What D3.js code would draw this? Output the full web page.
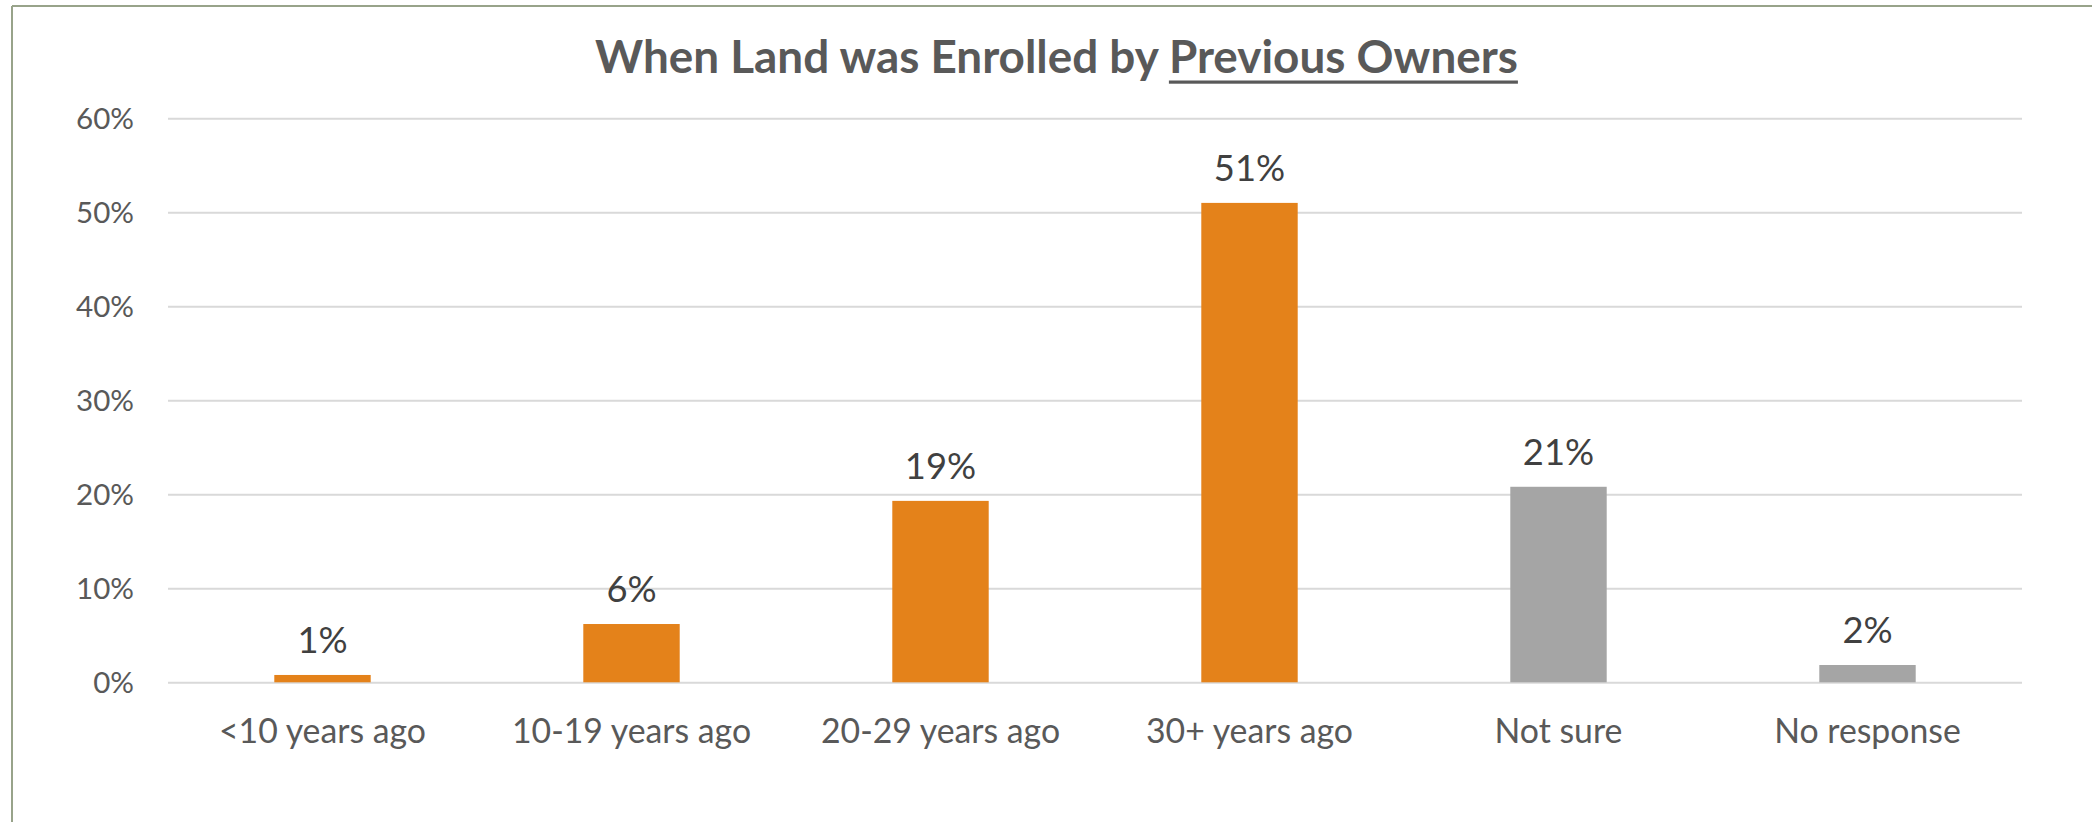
<!DOCTYPE html>
<html>
<head>
<meta charset="utf-8">
<script src="https://cdn.jsdelivr.net/npm/d3@7"></script>
<style>
  html, body { margin: 0; padding: 0; background: #fff; }
  svg { display: block; }
  text { font-family: Lato, "Open Sans", sans-serif; }
</style>
</head>
<body>
<svg id="chart" width="2092" height="822"></svg>
<script>
// ---- data ----
const categories = ["<10 years ago", "10-19 years ago", "20-29 years ago", "30+ years ago", "Not sure", "No response"];
const values = [0.78, 6.2, 19.3, 51.0, 20.8, 1.84];
const valueLabels = ["1%", "6%", "19%", "51%", "21%", "2%"];
const barGroups = ["main", "main", "main", "main", "other", "other"];
const yTicks = [0, 10, 20, 30, 40, 50, 60];
const titleMain = "When Land was Enrolled by ";
const titleUnderlined = "Previous Owners";

// ---- layout ----
const W = 2092, H = 822;
const plot = { left: 168, right: 2022, top: 118.3, bottom: 682.3 };
const colors = { main: "#E4821A", other: "#A5A5A5" };

const svg = d3.select("#chart");

// frame
svg.append("rect").attr("x", 0).attr("y", 0).attr("width", W).attr("height", H).attr("fill", "#fff");
svg.append("line").attr("x1", 12).attr("x2", W).attr("y1", 6).attr("y2", 6)
  .attr("stroke", "#98A38A").attr("stroke-width", 2);
svg.append("line").attr("x1", 12).attr("x2", 12).attr("y1", 6).attr("y2", H)
  .attr("stroke", "#98A38A").attr("stroke-width", 2);

const x = d3.scaleBand().domain(categories).range([plot.left, plot.right])
  .paddingInner(0.688).paddingOuter(0.344);
const y = d3.scaleLinear().domain([0, 60]).range([plot.bottom, plot.top]);

// helper: fit font size to a target width
function fitSize(sample, weight, base, target) {
  const t = svg.append("text").attr("font-size", base).attr("font-weight", weight).text(sample);
  const w = t.node().getComputedTextLength();
  t.remove();
  return base * target / w;
}
const axisSize = fitSize("<10 years ago", 400, 36, 207);
const ySize = fitSize("60%", 400, 36, 58);
const labelSize = fitSize("51%", 400, 40, 71.3);
const titleSize = fitSize(titleMain + titleUnderlined, 700, 48, 923);

// gridlines + y axis
const yAxis = d3.axisLeft(y).tickValues(yTicks).tickSize(-(plot.right - plot.left))
  .tickFormat(d => d + "%").tickPadding(34);
const gy = svg.append("g").attr("transform", `translate(${plot.left},0)`).call(yAxis);
gy.select(".domain").remove();
gy.selectAll(".tick line").attr("stroke", "#D9D9D9").attr("stroke-width", 2);
gy.selectAll(".tick text").attr("fill", "#595959").attr("font-size", ySize)
  .attr("font-family", "Lato, sans-serif").attr("dy", "0.35em");

// bars
svg.append("g").selectAll("rect").data(values).join("rect")
  .attr("x", (d, i) => x(categories[i]))
  .attr("width", x.bandwidth())
  .attr("y", d => y(d))
  .attr("height", d => y(0) - y(d))
  .attr("fill", (d, i) => colors[barGroups[i]]);

// data labels
svg.append("g").selectAll("text").data(values).join("text")
  .attr("x", (d, i) => x(categories[i]) + x.bandwidth() / 2)
  .attr("y", d => y(d) - 22)
  .attr("text-anchor", "middle")
  .attr("font-size", labelSize)
  .attr("fill", "#404040")
  .text((d, i) => valueLabels[i]);

// x axis labels
const xAxis = d3.axisBottom(x).tickSize(0).tickPadding(0);
const gx = svg.append("g").attr("transform", `translate(0,${plot.bottom})`).call(xAxis);
gx.select(".domain").remove();
gx.selectAll(".tick text").attr("fill", "#595959").attr("font-size", axisSize)
  .attr("font-family", "Lato, sans-serif").attr("dy", 0).attr("y", 61);

// title
const title = svg.append("text").attr("x", 1056.5).attr("y", 73)
  .attr("text-anchor", "middle").attr("font-weight", 700).attr("font-size", titleSize)
  .attr("fill", "#595959");
title.append("tspan").text(titleMain);
title.append("tspan").text(titleUnderlined);
const tn = title.node();
const startIdx = titleMain.length;
const endIdx = titleMain.length + titleUnderlined.length - 1;
const ux0 = tn.getStartPositionOfChar(startIdx).x;
const ux1 = tn.getEndPositionOfChar(endIdx).x;
svg.append("rect").attr("x", ux0).attr("y", 80.5).attr("width", ux1 - ux0).attr("height", 3.2)
  .attr("fill", "#595959");
</script>
</body>
</html>
